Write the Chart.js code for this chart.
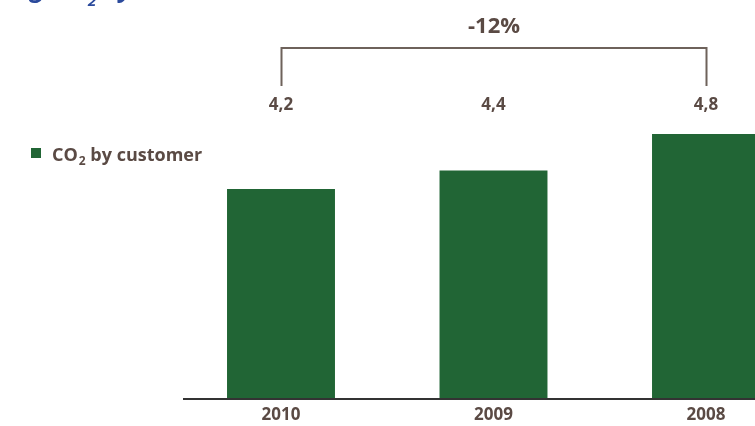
<!DOCTYPE html>
<html>
<head>
<meta charset="utf-8">
<script src="https://cdn.jsdelivr.net/npm/chart.js@4/dist/chart.umd.min.js"></script>
<style>
  html, body { margin: 0; padding: 0; background: #fff; overflow: hidden; }
  #wrap { width: 816px; height: 426px; position: relative; }
</style>
</head>
<body>
<div id="wrap"><canvas id="co2"></canvas></div>
<script>
const years = ["2010", "2009", "2008"];
const co2PerCustomer = [4.2, 4.4, 4.8];
const valueLabels = ["4,2", "4,4", "4,8"];
const changeLabel = "-12%";

const GREEN = "#216535";
const TEXT = "#5a4a44";
const FONT = "'Open Sans', 'Noto Sans', sans-serif";

// headline, legend, value labels and the change bracket
const annotations = {
  id: "annotations",
  afterDraw(chart) {
    const ctx = chart.ctx;
    const x = chart.scales.x;
    ctx.save();

    // headline, mostly above the top edge
    ctx.fillStyle = "#2b4a9c";
    ctx.textBaseline = "alphabetic";
    ctx.font = "italic bold 26px " + FONT;
    ctx.textAlign = "right";
    ctx.fillText("Reducing CO", 86, -3);
    ctx.font = "italic bold 15px " + FONT;
    ctx.textAlign = "left";
    ctx.fillText("2", 88, 6);
    ctx.font = "italic bold 26px " + FONT;
    ctx.fillText(" by customer", 97, -3);

    // legend
    ctx.fillStyle = GREEN;
    ctx.fillRect(31, 148, 10, 10);
    ctx.fillStyle = TEXT;
    ctx.font = "bold 18px " + FONT;
    ctx.fillText("CO", 52, 161);
    let w = ctx.measureText("CO").width;
    ctx.font = "bold 12px " + FONT;
    ctx.fillText("2", 52 + w + 1, 165);
    const w2 = ctx.measureText("2").width;
    ctx.font = "bold 18px " + FONT;
    ctx.fillText(" by customer", 52 + w + w2 + 1, 161);

    // value labels over each bar
    ctx.textAlign = "center";
    ctx.textBaseline = "middle";
    ctx.font = "bold 17px " + FONT;
    valueLabels.forEach((t, i) => {
      ctx.fillText(t, x.getPixelForValue(i), 105);
    });

    // bracket between first and last year
    const x0 = Math.round(x.getPixelForValue(0)) + 0.5;
    const x1 = Math.round(x.getPixelForValue(years.length - 1)) + 0.5;
    ctx.strokeStyle = "#6e625b";
    ctx.lineWidth = 2;
    ctx.beginPath();
    ctx.moveTo(x0, 86);
    ctx.lineTo(x0, 48);
    ctx.lineTo(x1, 48);
    ctx.lineTo(x1, 86);
    ctx.stroke();

    ctx.font = "bold 22px " + FONT;
    ctx.fillText(changeLabel, (x0 + x1) / 2, 27);

    // baseline
    const yb = chart.chartArea.bottom;
    ctx.strokeStyle = "#333";
    ctx.lineWidth = 2;
    ctx.beginPath();
    ctx.moveTo(183, yb + 1);
    ctx.lineTo(chart.width, yb + 1);
    ctx.stroke();

    ctx.restore();
  }
};

new Chart(document.getElementById("co2"), {
  type: "bar",
  data: {
    labels: years,
    datasets: [{
      label: "CO2 by customer",
      data: co2PerCustomer,
      backgroundColor: GREEN,
      borderWidth: 0,
      barPercentage: 0.508,
      categoryPercentage: 1
    }]
  },
  options: {
    responsive: true,
    maintainAspectRatio: false,
    animation: false,
    events: [],
    layout: { padding: { left: 174.75, right: 3.75, top: 0, bottom: 0 } },
    plugins: { legend: { display: false }, tooltip: { enabled: false } },
    scales: {
      x: {
        grid: { display: false, drawTicks: false },
        border: { display: false },
        ticks: { color: TEXT, font: { family: FONT, size: 17, weight: "bold" }, padding: 7 },
        afterFit: (s) => { s.height = 28; }
      },
      y: {
        display: false,
        min: 1.92,
        max: 6.26
      }
    }
  },
  plugins: [annotations]
});
</script>
</body>
</html>
